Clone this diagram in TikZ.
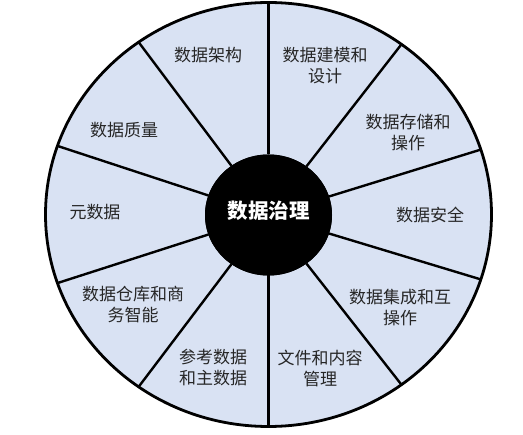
\documentclass[tikz,border=0pt]{standalone}
\usepackage{fontspec}
\newfontfamily\cjk{Noto Sans CJK SC}
\usetikzlibrary{shapes.geometric}
\definecolor{wheelfill}{HTML}{D9E2F3}
\definecolor{labelink}{HTML}{262626}
\begin{document}
\begin{tikzpicture}[x=1pt,y=-1pt,
  sector/.style={font=\cjk\fontsize{17}{21}\selectfont, text=labelink, align=center, inner sep=0pt},
  divider/.style={line width=2.4pt},
  rim/.style={line width=2.8pt}]
\useasboundingbox (0,0) rectangle (523,435);
\node[ellipse, fill=wheelfill, minimum width=446pt, minimum height=424pt, inner sep=0pt, outer sep=0pt] (wheel) at (268.5,214.5) {};
\node[ellipse, fill=black, minimum width=127pt, minimum height=121pt, inner sep=0pt, outer sep=0pt] (core) at (268.5,215) {};
\foreach \a in {90,52.7,17.2,-17.2,-52.7,-90,-127.3,-162.8,162.8,127.3}
  \draw[divider] (core.\a) -- (wheel.\a);
\draw[rim] (wheel.center) ellipse [x radius=223, y radius=212];
\node[ellipse, fill=black, minimum width=127pt, minimum height=121pt, inner sep=0pt] at (core.center) {};
\node[font=\cjk\bfseries\fontsize{20.5}{24}\selectfont, text=white, inner sep=0pt] (title) at (268.5,211) {数据治理};
\node[sector] (s1) at (208,55) {数据架构};
\node[sector] (s2) at (325,65.5) {数据建模和\\设计};
\node[sector] (s3) at (408,132.5) {数据存储和\\操作};
\node[sector] (s4) at (430,215) {数据安全};
\node[sector] (s5) at (400,307.5) {数据集成和互\\操作};
\node[sector] (s6) at (320,368) {文件和内容\\管理};
\node[sector] (s7) at (213,368) {参考数据\\和主数据};
\node[sector] (s8) at (133,305) {数据仓库和商\\务智能};
\node[sector] (s9) at (95,212) {元数据};
\node[sector] (s10) at (124,130) {数据质量};
\end{tikzpicture}
\end{document}
